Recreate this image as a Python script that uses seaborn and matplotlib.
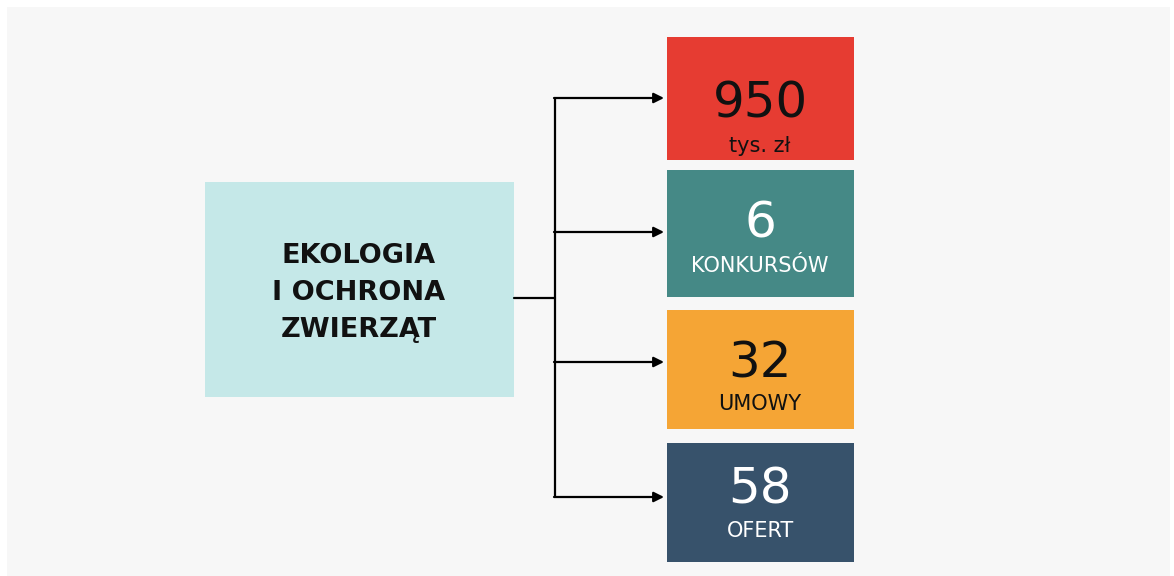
import matplotlib
matplotlib.use("Agg")
import matplotlib.pyplot as plt
from matplotlib.patches import Rectangle
import seaborn as sns

# data
topic_lines = ["EKOLOGIA", "I OCHRONA", "ZWIERZĄT"]
values = ["950", "6", "32", "58"]
units = ["tys. zł", "KONKURSÓW", "UMOWY", "OFERT"]
box_colors = ["#e63c32", "#458986", "#f5a535", "#37526b"]
text_colors = ["#111111", "#ffffff", "#111111", "#ffffff"]

sns.set_theme(style="white")
plt.rcParams['font.family'] = ['DejaVu Sans']

fig = plt.figure(figsize=(11.74, 5.76), dpi=100)
ax = fig.add_axes([0, 0, 1, 1])
ax.set_xlim(0, 1174)
ax.set_ylim(576, 0)
ax.axis("off")

# background panel
ax.add_patch(Rectangle((7, 7), 1163, 570, color="#f7f7f7", lw=0, zorder=0))

# left box
ax.add_patch(Rectangle((205, 182), 309, 215, color="#c5e8e8", lw=0, zorder=1))
for line, base in zip(topic_lines, [263, 300, 337]):
    ax.text(359, base, line, ha="center", va="baseline", fontsize=19.5,
            fontweight="bold", color="#111111", zorder=2)

# right boxes (layout in pixels)
tops = [37, 170, 310, 443]
heights = [123, 127, 119, 119]
num_base = [117, 237, 377, 503]
unit_base = [152, 272, 410, 537]
arrow_y = [98, 232, 362, 497]
for i in range(len(values)):
    ax.add_patch(Rectangle((667, tops[i]), 187, heights[i], color=box_colors[i],
                           lw=0, zorder=1))
    ax.text(760, num_base[i], values[i], ha="center", va="baseline",
            fontsize=36, color=text_colors[i], zorder=2)
    ax.text(760, unit_base[i], units[i], ha="center", va="baseline",
            fontsize=15, color=text_colors[i], zorder=2)
    ax.annotate("", xy=(664, arrow_y[i]), xytext=(554, arrow_y[i]),
                arrowprops=dict(arrowstyle="-|>,head_length=0.5,head_width=0.25",
                                color="black", lw=1.6, shrinkA=0, shrinkB=0),
                zorder=3)

# connector lines
ax.plot([555, 555], [arrow_y[0], arrow_y[-1]], color="black", lw=1.6, zorder=3,
        solid_capstyle="butt")
ax.plot([514, 555], [298, 298], color="black", lw=1.6, zorder=3)

fig.savefig("out.png", dpi=100, facecolor="white")
